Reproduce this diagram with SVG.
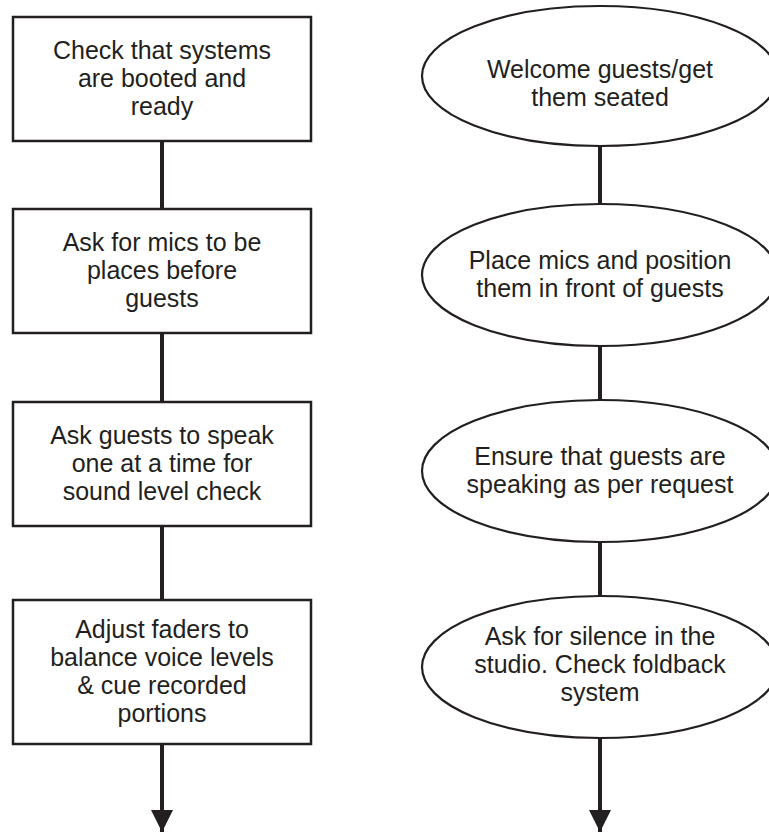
<svg xmlns="http://www.w3.org/2000/svg" width="769" height="833" viewBox="0 0 769 833">
<style>
.box{fill:#fff;stroke:#231f20;stroke-width:2.5}
.ell{fill:#fff;stroke:#231f20;stroke-width:2.2}
.t{font-family:"Liberation Sans",Arial,sans-serif;font-size:25px;fill:#231f20;text-anchor:middle}
.c{stroke:#231f20;stroke-width:4;fill:none}
</style>
<defs>
<marker id="ah" markerUnits="userSpaceOnUse" markerWidth="24" markerHeight="22" refX="22" refY="11" orient="auto">
<path d="M0,0 L22,11 L0,22 Z" fill="#231f20"/>
</marker>
</defs>
<rect width="769" height="833" fill="#fff"/>
<g id="connectors">
<line class="c" x1="162" y1="141" x2="162" y2="209"/>
<line class="c" x1="162" y1="333" x2="162" y2="402"/>
<line class="c" x1="162" y1="526" x2="162" y2="600"/>
<line class="c" x1="162" y1="744" x2="162" y2="832" marker-end="url(#ah)"/>
<line class="c" x1="600" y1="146" x2="600" y2="204"/>
<line class="c" x1="600" y1="346" x2="600" y2="400"/>
<line class="c" x1="600" y1="542" x2="600" y2="596"/>
<line class="c" x1="600" y1="738" x2="600" y2="832" marker-end="url(#ah)"/>
</g>
<g id="n1">
<rect class="box" x="13" y="17" width="298" height="124"/>
<text class="t" x="162" y="59">Check that systems</text>
<text class="t" x="162" y="87">are booted and</text>
<text class="t" x="162" y="115">ready</text>
</g>
<g id="n2">
<rect class="box" x="13" y="209" width="298" height="124"/>
<text class="t" x="162" y="251">Ask for mics to be</text>
<text class="t" x="162" y="279">places before</text>
<text class="t" x="162" y="307">guests</text>
</g>
<g id="n3">
<rect class="box" x="13" y="402" width="298" height="124"/>
<text class="t" x="162" y="444">Ask guests to speak</text>
<text class="t" x="162" y="472">one at a time for</text>
<text class="t" x="162" y="500">sound level check</text>
</g>
<g id="n4">
<rect class="box" x="13" y="600" width="298" height="144"/>
<text class="t" x="162" y="638">Adjust faders to</text>
<text class="t" x="162" y="666">balance voice levels</text>
<text class="t" x="162" y="694">&amp; cue recorded</text>
<text class="t" x="162" y="722">portions</text>
</g>
<g id="e1">
<ellipse class="ell" cx="600" cy="76" rx="178" ry="70"/>
<text class="t" x="600" y="78">Welcome guests/get</text>
<text class="t" x="600" y="106">them seated</text>
</g>
<g id="e2">
<ellipse class="ell" cx="600" cy="275" rx="178" ry="71"/>
<text class="t" x="600" y="269">Place mics and position</text>
<text class="t" x="600" y="297">them in front of guests</text>
</g>
<g id="e3">
<ellipse class="ell" cx="600" cy="471" rx="178" ry="71"/>
<text class="t" x="600" y="465">Ensure that guests are</text>
<text class="t" x="600" y="493">speaking as per request</text>
</g>
<g id="e4">
<ellipse class="ell" cx="600" cy="667" rx="178" ry="71"/>
<text class="t" x="600" y="645">Ask for silence in the</text>
<text class="t" x="600" y="673">studio. Check foldback</text>
<text class="t" x="600" y="701">system</text>
</g>
</svg>
